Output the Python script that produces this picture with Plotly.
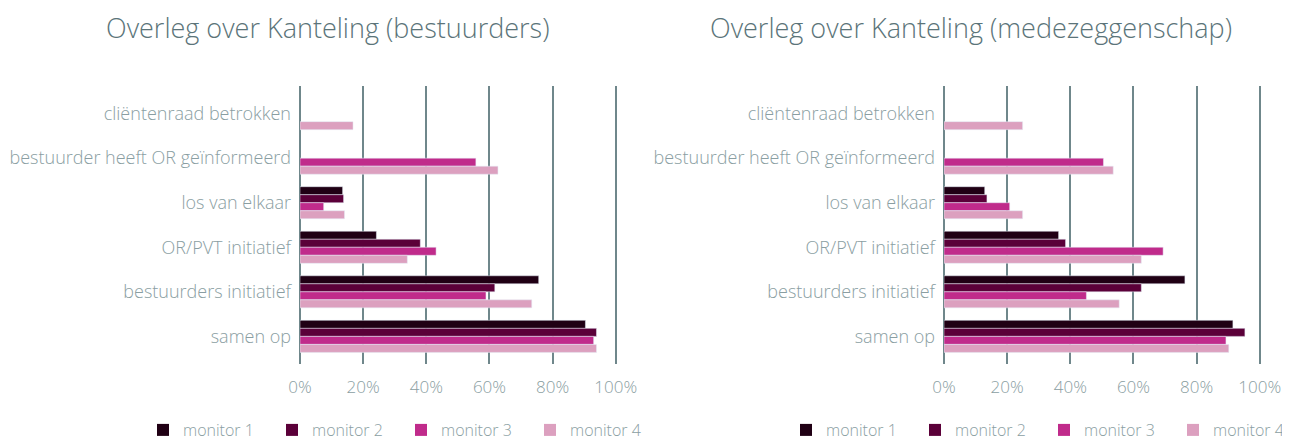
import plotly.graph_objects as go

categories = ["cliëntenraad betrokken", "bestuurder heeft OR geïnformeerd", "los van elkaar",
              "OR/PVT initiatief", "bestuurders initiatief", "samen op"]
series_names = ["monitor 1", "monitor 2", "monitor 3", "monitor 4"]
colors = ["#200014", "#5b0039", "#c02b8b", "#dca0bf"]

# bestuurders (left)
best_m1 = [None, None, 13.5, 24.2, 75.6, 90.4]
best_m2 = [None, None, 13.8, 38.1, 61.7, 93.9]
best_m3 = [None, 55.7, 7.5, 43.1, 58.9, 93.0]
best_m4 = [16.8, 62.7, 14.1, 34.0, 73.4, 93.9]

# medezeggenschap (right)
mz_m1 = [None, None, 12.9, 36.3, 76.3, 91.5]
mz_m2 = [None, None, 13.6, 38.5, 62.5, 95.3]
mz_m3 = [None, 50.5, 20.8, 69.4, 45.1, 89.3]
mz_m4 = [24.9, 53.6, 24.9, 62.5, 55.5, 90.2]

titles = ["Overleg over Kanteling (bestuurders)", "Overleg over Kanteling (medezeggenschap)"]
x_ticks = [0, 20, 40, 60, 80, 100]
x_tick_labels = ["0%", "20%", "40%", "60%", "80%", "100%"]

FONT = "Open Sans"
TXT = "#8a9ea2"
GRID = "#6f878b"
TITLE_C = "#5b7479"

fig = go.Figure()
left = [best_m1, best_m2, best_m3, best_m4]
right = [mz_m1, mz_m2, mz_m3, mz_m4]
for i, name in enumerate(series_names):
    fig.add_trace(go.Bar(y=categories, x=left[i], orientation="h", name=name,
                         marker_color=colors[i], xaxis="x", yaxis="y", showlegend=False))
    fig.add_trace(go.Bar(y=categories, x=right[i], orientation="h", name=name,
                         marker_color=colors[i], xaxis="x2", yaxis="y2", showlegend=False))
for i, name in enumerate(series_names):
    fig.add_trace(go.Scatter(x=[None], y=[None], mode="markers", name=name,
                             marker=dict(symbol="square", size=8, color=colors[i]),
                             xaxis="x", yaxis="y", legend="legend"))
    fig.add_trace(go.Scatter(x=[None], y=[None], mode="markers", name=name,
                             marker=dict(symbol="square", size=8, color=colors[i]),
                             xaxis="x2", yaxis="y2", legend="legend2"))

# page body has an 8px margin: lay out in page pixel coordinates minus 8
OFF = 8
W, H = 1290 - OFF, 441 - OFF


def px(x):
    return (x - OFF) / W


def py(y):
    return (H - (y - OFF)) / H


ydom = [py(364), py(86)]
xcommon = dict(range=[0, 100.4], tickvals=x_ticks, ticktext=x_tick_labels, showgrid=True,
               gridcolor=GRID, gridwidth=1.5, zeroline=True, zerolinecolor=GRID, zerolinewidth=1.5,
               showline=False, tickfont=dict(family=FONT, size=17, color=TXT, weight=300), ticks="",
               ticklabelstandoff=11, fixedrange=True, automargin=False)
ycommon = dict(categoryorder="array", categoryarray=categories, range=[5.62, -0.62],
               showgrid=False, zeroline=False, ticks="", ticklabelstandoff=8, automargin=False,
               tickfont=dict(family=FONT, size=18, color=TXT, weight=300))

legend_common = dict(orientation="h", yanchor="middle", y=py(430), xanchor="left",
                     font=dict(family=FONT, size=16, color=TXT, weight=300), entrywidth=84,
                     entrywidthmode="pixels", bgcolor="rgba(0,0,0,0)", itemsizing="constant")

fig.update_layout(
    width=W, height=H, margin=dict(l=0, r=0, t=0, b=0, autoexpand=False),
    paper_bgcolor="white", plot_bgcolor="white",
    barmode="group", bargap=0.28, bargroupgap=0,
    xaxis=dict(domain=[px(300), px(617)], anchor="y", **xcommon),
    yaxis=dict(domain=ydom, anchor="x", **ycommon),
    xaxis2=dict(domain=[px(944), px(1261)], anchor="y2", **xcommon),
    yaxis2=dict(domain=ydom, anchor="x2", **ycommon),
    legend=dict(x=px(143), **legend_common),
    legend2=dict(x=px(786), **legend_common),
    annotations=[
        dict(text=titles[0], x=px(328), y=py(27), xref="paper", yref="paper",
             showarrow=False, xanchor="center", yanchor="middle",
             font=dict(family=FONT, size=27, color=TITLE_C, weight=300)),
        dict(text=titles[1], x=px(971), y=py(27), xref="paper", yref="paper",
             showarrow=False, xanchor="center", yanchor="middle",
             font=dict(family=FONT, size=27, color=TITLE_C, weight=300)),
    ],
)

fig.write_html("out.html")
